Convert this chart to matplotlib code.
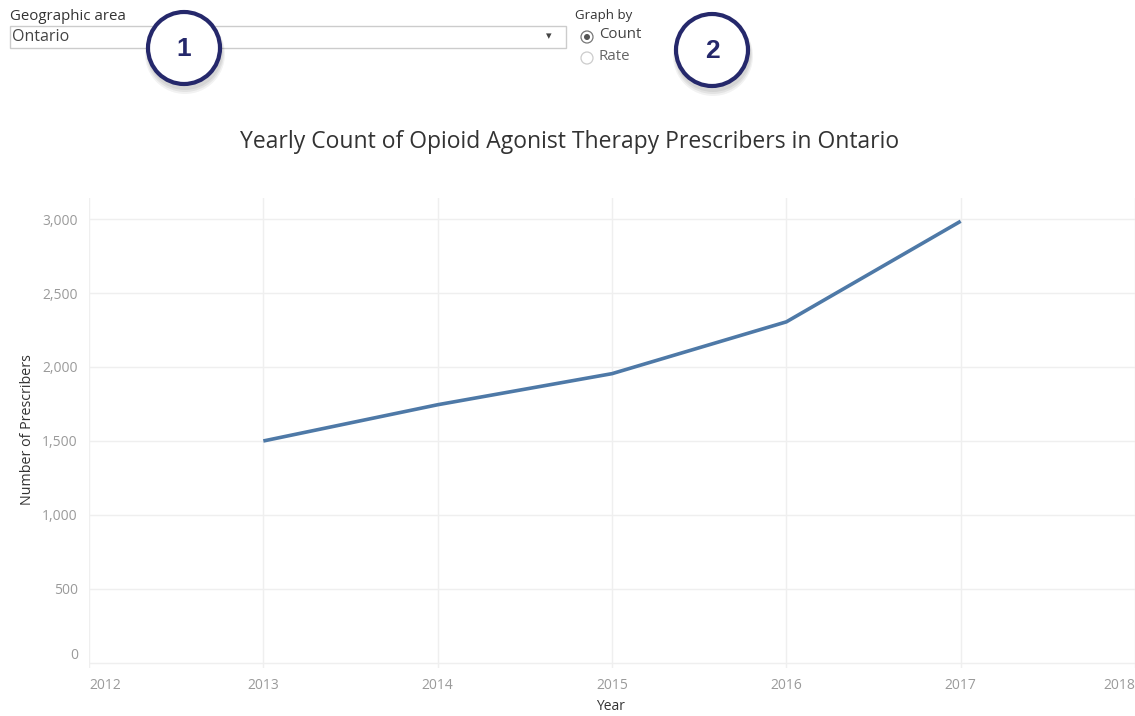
import matplotlib
matplotlib.use("Agg")
import matplotlib.pyplot as plt
from matplotlib.patches import Circle, Rectangle

# chart data
years = [2013, 2014, 2015, 2016, 2017]
prescribers = [1500, 1745, 1955, 2305, 2985]
x_ticks = [2012, 2013, 2014, 2015, 2016, 2017, 2018]
y_ticks = [0, 500, 1000, 1500, 2000, 2500, 3000]

title = "Yearly Count of Opioid Agonist Therapy Prescribers in Ontario"
area_label = "Geographic area"
area_value = "Ontario"
graph_by_label = "Graph by"
graph_by_options = ["Count", "Rate"]

W, H = 1135, 716
plt.rcParams["font.family"] = ["Open Sans", "DejaVu Sans"]

fig = plt.figure(figsize=(W / 100, H / 100), dpi=100)
fig.patch.set_facecolor("white")

# main plot, placed in pixel units
left, right, top, bottom = 89, 1135, 198, 668
ax = fig.add_axes([left / W, 1 - bottom / H, (right - left) / W, (bottom - top) / H])
ax.plot(years, prescribers, color="#4e79a7", linewidth=2.6, solid_capstyle="butt")
ax.set_xlim(2012, 2018)
ax.set_ylim(-34, 3142)
ax.set_xticks(x_ticks)
ax.set_yticks(y_ticks)
ax.set_xticklabels([str(y) for y in x_ticks])
ax.set_yticklabels([f"{v:,}" for v in y_ticks])
ax.grid(True, color="#efefef", linewidth=1)
ax.set_axisbelow(True)
for spine in ax.spines.values():
    spine.set_visible(False)
ax.tick_params(axis="both", length=0, colors="#9a9a9a", labelsize=10)
ax.tick_params(axis="x", pad=7)
ax.tick_params(axis="y", pad=8)
xlabels = ax.get_xticklabels()
xlabels[0].set_horizontalalignment("left")
xlabels[-1].set_horizontalalignment("right")
ylabels = ax.get_yticklabels()
ylabels[0].set_verticalalignment("bottom")

# overlay in pixel coordinates for text and controls
ov = fig.add_axes([0, 0, 1, 1], zorder=5)
ov.set_xlim(0, W)
ov.set_ylim(H, 0)
ov.axis("off")
ov.patch.set_alpha(0)

ov.text(570, 142, title, ha="center", va="center", fontsize=16.5, color="#333333")
ov.text(28, 430, "Number of Prescribers", rotation=90, ha="center", va="center",
        fontsize=10.3, color="#333333")
ov.text(610, 706, "Year", ha="center", va="center", fontsize=10, color="#333333")

# geographic area dropdown
ov.text(10, 16, area_label, ha="left", va="center", fontsize=10.8, color="#333333")
ov.add_patch(Rectangle((10, 26), 556, 22, facecolor="white", edgecolor="#cccccc", linewidth=1))
ov.text(12, 37, area_value, ha="left", va="center", fontsize=11.5, color="#444444")
ov.text(549, 37, "\u25be", ha="center", va="center", fontsize=8, color="#444444")

# graph-by radio buttons
ov.text(575, 16, graph_by_label, ha="left", va="center", fontsize=9.5, color="#333333")
for i, option in enumerate(graph_by_options):
    cy = 37 + 21 * i
    ov.add_patch(Circle((587, cy), 6, facecolor="white",
                        edgecolor="#777777" if i == 0 else "#cccccc", linewidth=0.9))
    if i == 0:
        ov.add_patch(Circle((587, cy), 3, facecolor="#555555", edgecolor="none"))
    ov.text(599, cy - 2, option, ha="left", va="center", fontsize=10.8,
            color="#444444" if i == 0 else "#666666")

# numbered callout circles
for label, (cx, cy) in [("1", (184, 48)), ("2", (712, 50))]:
    for k, a in enumerate([0.06, 0.06, 0.05]):
        ov.add_patch(Circle((cx + 1, cy + 4 + k), 38 + k, facecolor="black",
                            edgecolor="none", alpha=a))
    ov.add_patch(Circle((cx, cy), 36, facecolor="white", edgecolor="#25286b", linewidth=3))
    ov.text(cx, cy + 1, label, ha="center", va="center", fontsize=19, fontweight="bold",
            color="#25286b", family=["Liberation Sans", "DejaVu Sans"])

fig.savefig("out.png", dpi=100)
